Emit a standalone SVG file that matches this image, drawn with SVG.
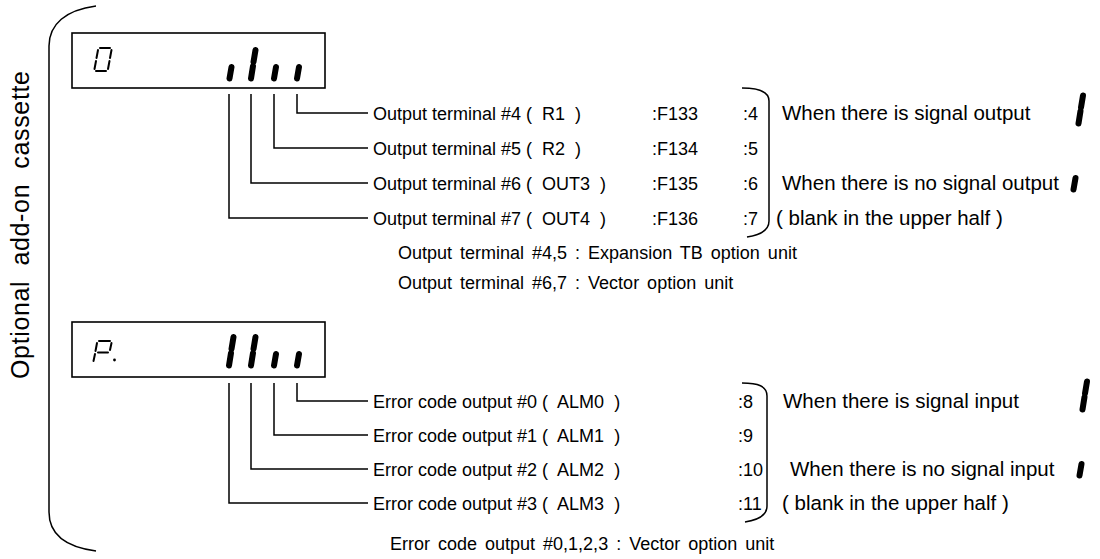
<svg xmlns="http://www.w3.org/2000/svg" width="1100" height="559" viewBox="0 0 1100 559">
<style>
text{font-family:"Liberation Sans",Arial,sans-serif;fill:#000;white-space:pre}
.t{font-size:18px}
.w{font-size:20.5px}
.v{font-size:25px}
.box{fill:#fff;stroke:#000;stroke-width:1.6}
.ln{fill:none;stroke:#000;stroke-width:1.5}
.seg{fill:none;stroke:#000;stroke-width:6;stroke-linecap:round}
.thin{fill:none;stroke:#000;stroke-width:2;stroke-linecap:round}
</style>
<rect width="1100" height="559" fill="#fff"/>

<g id="cassette-bracket">
<path class="ln" d="M96 6 C66 10 49 24 49 46 L49 512 C49 534 66 547 96 551"/>
<text class="v" transform="translate(29,225) rotate(-90)" text-anchor="middle" textLength="308">Optional  add-on  cassette</text>
</g>

<g id="display-top">
<rect class="box" x="72" y="33" width="253" height="55"/>
<path class="thin" d="M100 48 H110 M111.5 50 L110 58 M109.5 61 L108 69 M106 71 H96 M94.5 69 L96 61 M96.5 58 L98 50"/>
<path class="seg" d="M229.5 78.5 L231.5 67 M251 78.5 L253 66 M253.5 62 L255.5 50 M274 78.5 L276 67 M297 78.5 L299 67"/>
</g>

<g id="display-bottom">
<rect class="box" x="72" y="322" width="253" height="55"/>
<path class="thin" d="M99 341 H110 M111.5 343 L110 350 M108 352.5 H98 M97 343 L95.5 351 M95 354 L93.5 361"/>
<circle cx="114.5" cy="360" r="1.4" fill="#000"/>
<path class="seg" d="M229 365.5 L231 353 M231.5 349 L233.5 337 M251 365.5 L253 353 M253.5 349 L255.5 337 M274 365.5 L276 354 M297 365.5 L299 354"/>
</g>

<g id="connectors">
<path class="ln" d="M297 94 V113 H368"/>
<path class="ln" d="M274 94 V148 H368"/>
<path class="ln" d="M251 94 V183 H368"/>
<path class="ln" d="M229 94 V218 H368"/>
<path class="ln" d="M297 383 V401 H368"/>
<path class="ln" d="M274 383 V435 H368"/>
<path class="ln" d="M251 383 V469 H368"/>
<path class="ln" d="M229 383 V503 H368"/>
<path class="ln" d="M742 88 C758 88 769 91 769 101 L769 221 C769 231 760 235 747 237"/>
<path class="ln" d="M742 383 C758 383 767 386 767 396 L767 506 C767 516 758 520 745 522"/>
</g>

<g id="output-rows">
<text class="t" x="373" y="119.5">Output terminal #4 (  R1  )</text>
<text class="t" x="373" y="154.5">Output terminal #5 (  R2  )</text>
<text class="t" x="373" y="189.5">Output terminal #6 (  OUT3  )</text>
<text class="t" x="373" y="224.5">Output terminal #7 (  OUT4  )</text>
<text class="t" x="652" y="119.5">:F133</text>
<text class="t" x="652" y="154.5">:F134</text>
<text class="t" x="652" y="189.5">:F135</text>
<text class="t" x="652" y="224.5">:F136</text>
<text class="t" x="743" y="119.5">:4</text>
<text class="t" x="743" y="154.5">:5</text>
<text class="t" x="743" y="189.5">:6</text>
<text class="t" x="743" y="224.5">:7</text>
<text class="t" x="398" y="259" word-spacing="3">Output terminal #4,5 : Expansion TB option unit</text>
<text class="t" x="398" y="289" word-spacing="3">Output terminal #6,7 : Vector option unit</text>
</g>

<g id="output-legend">
<text class="w" x="782" y="120">When there is signal output</text>
<text class="w" x="782" y="190">When there is no signal output</text>
<text class="w" x="776" y="225">( blank in the upper half )</text>
<path class="seg" stroke-width="6.5" d="M1078.5 123.5 L1080.5 111 M1081 107.5 L1083 95.5 M1073.5 189.5 L1075.5 178"/>
</g>

<g id="error-rows">
<text class="t" x="373" y="407.5">Error code output #0 (  ALM0  )</text>
<text class="t" x="373" y="441.5">Error code output #1 (  ALM1  )</text>
<text class="t" x="373" y="475.5">Error code output #2 (  ALM2  )</text>
<text class="t" x="373" y="509.5">Error code output #3 (  ALM3  )</text>
<text class="t" x="738" y="407.5">:8</text>
<text class="t" x="738" y="441.5">:9</text>
<text class="t" x="738" y="475.5">:10</text>
<text class="t" x="738" y="509.5">:11</text>
<text class="t" x="390" y="550" word-spacing="3">Error code output #0,1,2,3 : Vector option unit</text>
</g>

<g id="error-legend">
<text class="w" x="783" y="408">When there is signal input</text>
<text class="w" x="790" y="476">When there is no signal input</text>
<text class="w" x="782" y="510">( blank in the upper half )</text>
<path class="seg" stroke-width="6.5" d="M1082.5 409.5 L1084.5 397 M1085 393.5 L1087 381.5 M1079.5 475.5 L1081.5 464"/>
</g>
</svg>
